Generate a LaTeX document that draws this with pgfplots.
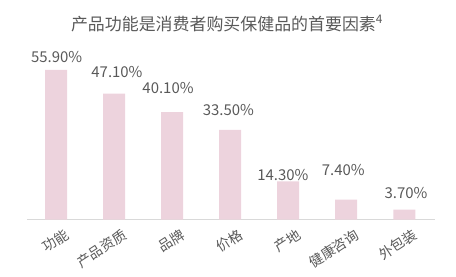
\documentclass[border=0pt]{standalone}
\usepackage{fontspec}
\setmainfont{Noto Sans CJK SC}
\usepackage{pgfplots}
\pgfplotsset{compat=1.18}
\definecolor{barpink}{RGB}{237,211,221}
\definecolor{txtgray}{RGB}{89,89,89}
\definecolor{axgray}{RGB}{217,217,217}
\begin{document}
\begin{tikzpicture}[x=1bp,y=1bp]
\path[use as bounding box] (0,0) rectangle (456,276);
\node[text=txtgray, font=\fontsize{17}{20}\selectfont, anchor=center, inner sep=0pt] at (227,252.5) {产品功能是消费者购买保健品的首要因素\textsuperscript{4}};
\begin{axis}[
  at={(27bp,56.5bp)}, anchor=south west,
  scale only axis, width=408bp, height=160.5bp,
  xmin=-0.5, xmax=6.53, ymin=0, ymax=60,
  axis y line=none, axis x line=bottom,
  x axis line style={-, draw=axgray, line width=1bp},
  xtick={0,...,6}, major tick length=0pt,
  xticklabels={功能,产品资质,品牌,价格,产地,健康咨询,外包装},
  xticklabel style={rotate=33, anchor=north east, inner sep=0pt,
    font=\fontsize{14}{16}\selectfont, text=txtgray, yshift=-11bp, xshift=2bp},
  ytick=\empty,
  clip=false,
]
\addplot[ybar, bar width=22bp, fill=barpink, draw=none]
  coordinates {(0,55.9)(1,47.1)(2,40.1)(3,33.5)(4,14.3)(5,7.4)(6,3.7)};
\addplot[draw=none, mark=none, nodes near coords, point meta=explicit symbolic,
  every node near coord/.style={anchor=center, inner sep=0pt, text=txtgray,
    font=\fontsize{15}{17}\selectfont}]
  coordinates {(0.01,60.8)[55.90\%] (1.05,55.2)[47.10\%] (1.93,49.0)[40.10\%]
  (2.97,40.9)[33.50\%] (3.91,16.6)[14.30\%] (4.95,18.5)[7.40\%] (6.03,9.9)[3.70\%]};
\end{axis}
\end{tikzpicture}
\end{document}
